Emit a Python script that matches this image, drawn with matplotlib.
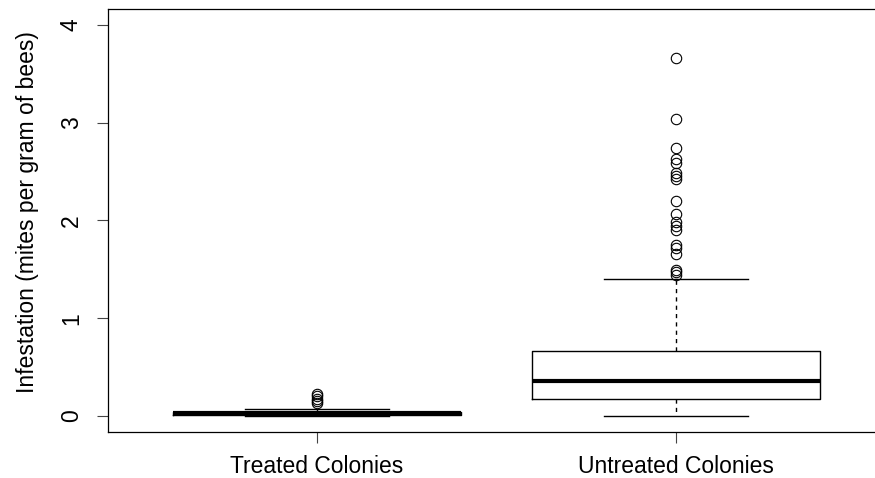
import matplotlib
matplotlib.use("Agg")
import matplotlib.pyplot as plt

plt.rcParams["font.family"] = ["Liberation Sans", "DejaVu Sans"]

# Data
groups = ["Treated Colonies", "Untreated Colonies"]
q1 = [0.01, 0.17]
medians = [0.035, 0.36]
q3 = [0.045, 0.66]
whisker_low = [0.0, 0.0]
whisker_high = [0.075, 1.40]
outliers_treated = [0.13, 0.15, 0.17, 0.20, 0.23]
outliers_untreated = [3.66, 3.04, 2.735, 2.63, 2.59, 2.48, 2.45, 2.42, 2.20,
                      2.065, 1.98, 1.945, 1.905, 1.75, 1.72, 1.66, 1.49,
                      1.47, 1.445]
outliers = [outliers_treated, outliers_untreated]
yticks = [0, 1, 2, 3, 4]

stats = []
for i, g in enumerate(groups):
    stats.append({
        "label": g,
        "q1": q1[i],
        "med": medians[i],
        "q3": q3[i],
        "whislo": whisker_low[i],
        "whishi": whisker_high[i],
        "fliers": outliers[i],
    })

fig = plt.figure(figsize=(8.75, 4.78), dpi=100)
# right edge of the plot box runs past the figure, as in the reference
ax = fig.add_axes([108 / 875, 46.3 / 478, 777 / 875, 422.7 / 478])

ax.bxp(
    stats,
    positions=[1, 2],
    widths=0.8,
    capwidths=0.4,
    boxprops=dict(color="black", linewidth=1.0),
    medianprops=dict(color="black", linewidth=3.0, solid_capstyle="butt"),
    whiskerprops=dict(color="black", linewidth=1.0, linestyle=(0, (3, 3))),
    capprops=dict(color="black", linewidth=1.0),
    flierprops=dict(marker="o", markerfacecolor="none", markeredgecolor="black",
                    markersize=7.5, markeredgewidth=0.8),
)

ax.set_xlim(0.42, 2.58)
ax.set_ylim(-0.16, 4.16)
ax.set_yticks(yticks)
ax.set_yticklabels([str(v) for v in yticks], rotation=90, va="center")
ax.set_xticks([1, 2])
ax.set_xticklabels(groups)
ax.tick_params(axis="both", direction="out", length=8, width=0.8, labelsize=16.5,
               color="#444444")
ax.tick_params(axis="x", pad=9)
ax.tick_params(axis="y", pad=10)
ax.set_ylabel("Infestation (mites per gram of bees)", fontsize=16.5, labelpad=15)
ax.yaxis.label.set_y(0.52)
for s in ax.spines.values():
    s.set_linewidth(0.9)
    s.set_color("black")

fig.savefig("out.png", dpi=100)
